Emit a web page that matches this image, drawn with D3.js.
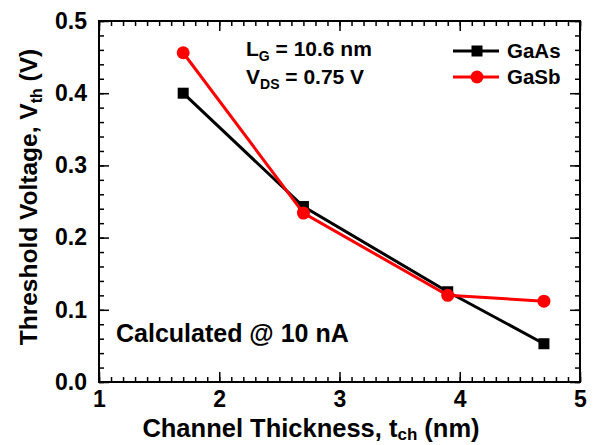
<!DOCTYPE html>
<html><head><meta charset="utf-8">
<script src="https://cdn.jsdelivr.net/npm/d3@7"></script>
<style>body{margin:0;background:#fff}text{font-family:"Liberation Sans",Arial,sans-serif;font-weight:bold}</style>
</head><body><svg id="c" width="600" height="445"></svg>
<script>
const thickness = [1.7, 2.7, 3.9, 4.7];
const gaAs = [0.400, 0.243, 0.125, 0.053];
const gaSb = [0.456, 0.234, 0.120, 0.112];
const xTicks = [1, 2, 3, 4, 5];
const yTicks = [0.0, 0.1, 0.2, 0.3, 0.4, 0.5];

const svg = d3.select("#c");
const L = 99, R = 580, T = 21, B = 382;
const x = d3.scaleLinear().domain([1, 5]).range([L, R]);
const y = d3.scaleLinear().domain([0, 0.5]).range([B, T]);

const g = svg.append("g");
const xMinor = d3.range(1, 5.001, 0.1);
const yMinor = d3.range(0, 0.5001, 0.02);

function ax(axisFn, scale, ticks, size, tr) {
  const a = g.append("g").attr("transform", tr)
    .call(axisFn(scale).tickValues(ticks).tickSize(size).tickFormat(""));
  a.select(".domain").remove();
  a.selectAll("line").attr("stroke", "#000").attr("stroke-width", 1.5);
  return a;
}
ax(d3.axisTop, x, xMinor, 5, `translate(0,${B})`);
ax(d3.axisBottom, x, xMinor, 5, `translate(0,${T})`);
ax(d3.axisRight, y, yMinor, 5, `translate(${L},0)`);
ax(d3.axisLeft, y, yMinor, 5, `translate(${R},0)`);
ax(d3.axisTop, x, xTicks, 10, `translate(0,${B})`);
ax(d3.axisBottom, x, xTicks, 10, `translate(0,${T})`);
ax(d3.axisRight, y, yTicks, 10, `translate(${L},0)`);
ax(d3.axisLeft, y, yTicks, 10, `translate(${R},0)`);

g.append("rect").attr("x", L).attr("y", T).attr("width", R - L).attr("height", B - T)
  .attr("fill", "none").attr("stroke", "#000").attr("stroke-width", 2);

const xl = g.append("g").attr("transform", `translate(0,${B})`)
  .call(d3.axisBottom(x).tickValues(xTicks).tickSize(0).tickPadding(9).tickFormat(d3.format("d")));
xl.select(".domain").remove();
xl.selectAll("text").attr("font-size", 23).attr("fill", "#000")
  .style("font-family", "Liberation Sans, Arial, sans-serif").style("font-weight", "bold");
const yl = g.append("g").attr("transform", `translate(${L},0)`)
  .call(d3.axisLeft(y).tickValues(yTicks).tickSize(0).tickPadding(12).tickFormat(d3.format(".1f")));
yl.select(".domain").remove();
yl.selectAll("text").attr("font-size", 23).attr("fill", "#000")
  .style("font-family", "Liberation Sans, Arial, sans-serif").style("font-weight", "bold");

const xt = svg.append("text").attr("x", 311).attr("y", 437).attr("text-anchor", "middle").attr("font-size", 25.5);
xt.append("tspan").text("Channel Thickness, t");
xt.append("tspan").attr("font-size", 17).attr("dy", 3).text("ch");
xt.append("tspan").attr("dy", -3).text(" (nm)");

const yt = svg.append("text").attr("transform", `translate(37,197) rotate(-90)`)
  .attr("text-anchor", "middle").attr("font-size", 24.5);
yt.append("tspan").text("Threshold Voltage, V");
yt.append("tspan").attr("font-size", 16).attr("dy", 5).text("th");
yt.append("tspan").attr("dy", -5).text(" (V)");

const line = d3.line().x((d, i) => x(thickness[i])).y(d => y(d));
const series = [
  {name: "GaAs", vals: gaAs, color: "#000", shape: "square"},
  {name: "GaSb", vals: gaSb, color: "#ff0000", shape: "circle"}
];
series.forEach(s => {
  svg.append("path").datum(s.vals).attr("d", line).attr("fill", "none")
    .attr("stroke", s.color).attr("stroke-width", 3);
  s.vals.forEach((v, i) => {
    if (s.shape === "square")
      svg.append("rect").attr("x", x(thickness[i]) - 5.5).attr("y", y(v) - 5.5)
        .attr("width", 11).attr("height", 11).attr("fill", s.color);
    else
      svg.append("circle").attr("cx", x(thickness[i])).attr("cy", y(v)).attr("r", 6.5).attr("fill", s.color);
  });
});

series.forEach((s, i) => {
  const ly = 51 + i * 26;
  svg.append("line").attr("x1", 453).attr("x2", 499).attr("y1", ly).attr("y2", ly)
    .attr("stroke", s.color).attr("stroke-width", 3);
  if (s.shape === "square")
    svg.append("rect").attr("x", 477 - 5.5).attr("y", ly - 5.5).attr("width", 11).attr("height", 11).attr("fill", s.color);
  else
    svg.append("circle").attr("cx", 477).attr("cy", ly).attr("r", 6.5).attr("fill", s.color);
  svg.append("text").attr("x", 507).attr("y", ly + 7).attr("font-size", 20.5).text(s.name);
});

const a1 = svg.append("text").attr("x", 246).attr("y", 56).attr("font-size", 21);
a1.append("tspan").text("L");
a1.append("tspan").attr("font-size", 14).attr("dy", 5).text("G");
a1.append("tspan").attr("dy", -5).text(" = 10.6 nm");
const a2 = svg.append("text").attr("x", 246).attr("y", 84).attr("font-size", 21);
a2.append("tspan").text("V");
a2.append("tspan").attr("font-size", 14).attr("dy", 5).text("DS");
a2.append("tspan").attr("dy", -5).text(" = 0.75 V");
svg.append("text").attr("x", 116).attr("y", 342).attr("font-size", 25).text("Calculated @ 10 nA");
</script></body></html>
